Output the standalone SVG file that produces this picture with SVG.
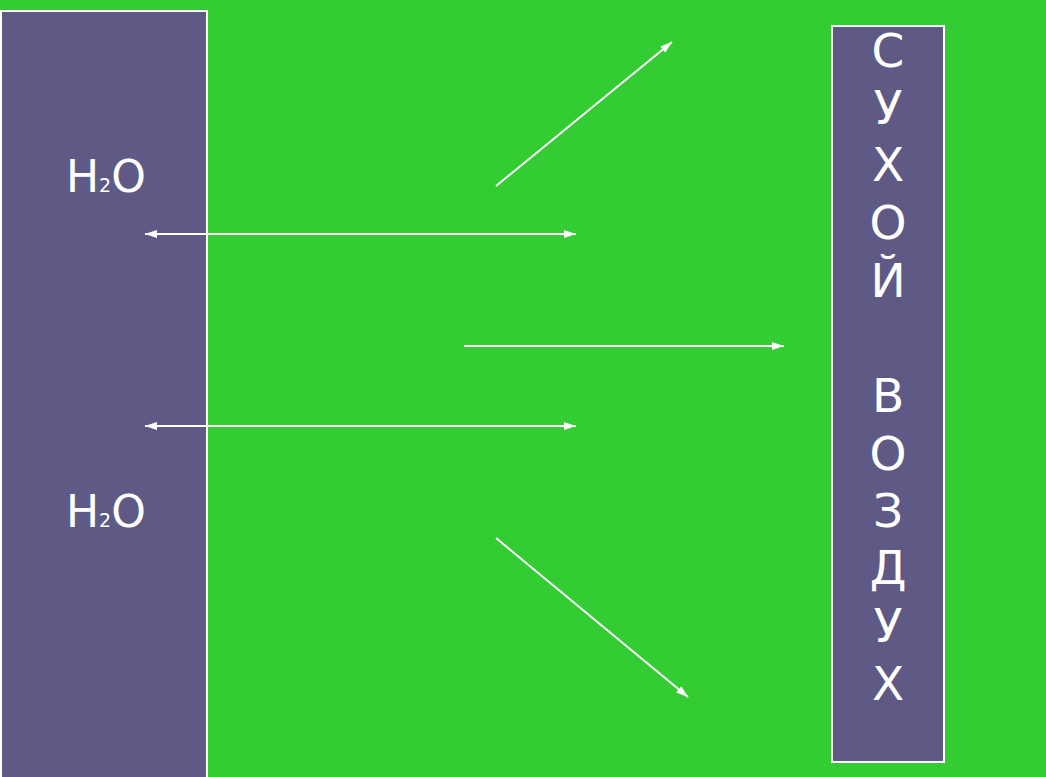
<svg xmlns="http://www.w3.org/2000/svg" width="1046" height="777" viewBox="0 0 1046 777">
<defs>
<marker id="ah" viewBox="0 0 12 8" refX="12" refY="4" markerWidth="12" markerHeight="8" markerUnits="userSpaceOnUse" orient="auto-start-reverse">
<path d="M0,0 L12,4 L0,8 Z" fill="#fff"/>
</marker>
<style>
.box{fill:#5F5A85;stroke:#fff;stroke-width:2}
.t{fill:#fff;font-family:"DejaVu Sans",Verdana,sans-serif}
.v{font-size:47px;text-anchor:middle}
.c{stroke:#fff;stroke-width:2;fill:none}
</style>
</defs>
<rect width="1046" height="777" fill="#33CC33"/>
<g id="water">
<rect class="box" x="1" y="11" width="206" height="800"/>
<text class="t" x="66" y="192" font-size="44">H<tspan font-size="19">2</tspan>O</text>
<text class="t" x="66" y="527" font-size="44">H<tspan font-size="19">2</tspan>O</text>
</g>
<g id="dry-air">
<rect class="box" x="832" y="26" width="112" height="736"/>
<text class="t v" x="888" y="67">С</text>
<text class="t v" x="888" y="124">У</text>
<text class="t v" x="888" y="181">Х</text>
<text class="t v" x="888" y="239">О</text>
<text class="t v" x="888" y="297">Й</text>
<text class="t v" x="888" y="412">В</text>
<text class="t v" x="888" y="470">О</text>
<text class="t v" x="888" y="527">З</text>
<text class="t v" x="888" y="584">Д</text>
<text class="t v" x="888" y="642">У</text>
<text class="t v" x="888" y="700">Х</text>
</g>
<g id="connectors">
<line class="c" x1="145" y1="234" x2="576" y2="234" marker-start="url(#ah)" marker-end="url(#ah)"/>
<line class="c" x1="145" y1="426" x2="576" y2="426" marker-start="url(#ah)" marker-end="url(#ah)"/>
<line class="c" x1="464" y1="346" x2="784" y2="346" marker-end="url(#ah)"/>
<line class="c" x1="496" y1="186" x2="672" y2="42" marker-end="url(#ah)"/>
<line class="c" x1="496" y1="538" x2="688" y2="697" marker-end="url(#ah)"/>
</g>
</svg>
